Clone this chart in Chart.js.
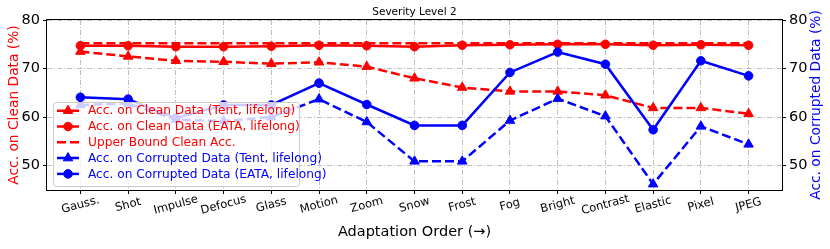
<!DOCTYPE html>
<html>
<head>
<meta charset="utf-8">
<script src="https://cdn.jsdelivr.net/npm/chart.js@4"></script>
<style>
  body { margin: 0; background: #fff; }
</style>
</head>
<body>
<canvas id="myChart" width="830" height="249"></canvas>
<script>
// Corruption types, in adaptation order
const categories = ['Gauss.', 'Shot', 'Impulse', 'Defocus', 'Glass', 'Motion', 'Zoom', 'Snow',
  'Frost', 'Fog', 'Bright', 'Contrast', 'Elastic', 'Pixel', 'JPEG'];

// Accuracy values (%)
const tentClean = [73.5, 72.5, 71.6, 71.4, 71.0, 71.3, 70.4, 68.0, 66.1, 65.3, 65.3, 64.5, 61.9, 61.9, 60.7];
const eataClean = [74.7, 74.7, 74.5, 74.5, 74.6, 74.8, 74.7, 74.5, 74.8, 74.9, 75.0, 75.0, 74.8, 74.9, 74.8];
const upperBound = [75.2, 75.2, 75.2, 75.2, 75.2, 75.2, 75.2, 75.2, 75.2, 75.2, 75.2, 75.2, 75.2, 75.2, 75.2];
const tentCorrupt = [62.5, 62.8, 59.5, 59.2, 60.0, 63.7, 59.0, 50.9, 50.9, 59.3, 63.8, 60.2, 46.2, 58.1, 54.4];
const eataCorrupt = [64.1, 63.7, 59.8, 62.5, 62.5, 67.0, 62.6, 58.3, 58.3, 69.2, 73.4, 70.9, 57.4, 71.6, 68.5];

// Tick values shown on both y axes
const yTicks = [50, 60, 70, 80];

const RED = '#ff0000';
const BLUE = '#0000ff';
const FONT = '"DejaVu Sans", sans-serif';

// turn an array into {x, y} points along the category index
const toPoints = arr => arr.map((v, i) => ({ x: i, y: v }));

function series(label, values, color, dashed, marker) {
  return {
    label: label,
    data: toPoints(values),
    borderColor: color,
    backgroundColor: color,
    borderWidth: 2.5,
    borderDash: dashed ? [9, 4] : [],
    pointStyle: marker || 'circle',
    pointRadius: marker ? (marker === 'triangle' ? 5.5 : 4.3) : 0,
    pointBorderWidth: 1,
    tension: 0,
    clip: false
  };
}

const datasets = [
  series('Acc. on Clean Data (Tent, lifelong)', tentClean, RED, true, 'triangle'),
  series('Acc. on Clean Data (EATA, lifelong)', eataClean, RED, false, 'circle'),
  series('Upper Bound Clean Acc.', upperBound, RED, true, null),
  series('Acc. on Corrupted Data (Tent, lifelong)', tentCorrupt, BLUE, true, 'triangle'),
  series('Acc. on Corrupted Data (EATA, lifelong)', eataCorrupt, BLUE, false, 'circle')
];
// later series drawn on top, like matplotlib
datasets.forEach((d, i) => { d.order = datasets.length - i; });

// frame, legend, title and labels drawn by hand
const overlay = {
  id: 'overlay',
  afterDraw(chart) {
    const { ctx, chartArea: a } = chart;
    const xs = chart.scales.x;
    ctx.save();

    // axes frame
    ctx.strokeStyle = '#000';
    ctx.lineWidth = 1;
    ctx.strokeRect(a.left - 0.5, a.top - 0.5, a.right - a.left + 1, a.bottom - a.top + 1);

    // legend box
    const lx = 53, ly = 102, lw = 246, lh = 84;
    ctx.beginPath();
    ctx.roundRect(lx + 0.5, ly + 0.5, lw, lh, 3);
    ctx.fillStyle = 'rgba(255,255,255,0.8)';
    ctx.fill();
    ctx.strokeStyle = '#cccccc';
    ctx.lineWidth = 1;
    ctx.stroke();

    ctx.font = '12.2px ' + FONT;
    ctx.textBaseline = 'middle';
    ctx.textAlign = 'left';
    chart.data.datasets.forEach((d, i) => {
      const y = 110.7 + i * 15.8;
      ctx.strokeStyle = d.borderColor;
      ctx.lineWidth = 2.5;
      ctx.setLineDash(d.borderDash);
      ctx.beginPath();
      ctx.moveTo(57, y);
      ctx.lineTo(79, y);
      ctx.stroke();
      ctx.setLineDash([]);
      if (d.pointRadius > 0) {
        ctx.fillStyle = d.backgroundColor;
        ctx.lineWidth = 1;
        Chart.helpers.drawPoint(ctx, { pointStyle: d.pointStyle, radius: d.pointRadius, borderWidth: 1 }, 68, y);
      }
      ctx.fillStyle = d.borderColor;
      ctx.fillText(d.label, 88, y + 0.5);
    });

    // chart title
    ctx.fillStyle = '#000';
    ctx.textAlign = 'center';
    ctx.font = '10.5px ' + FONT;
    ctx.fillText('Severity Level 2', (a.left + a.right) / 2, 12);

    // rotated x tick labels, centred under each tick
    ctx.font = '11.5px ' + FONT;
    categories.forEach((c, i) => {
      const px = xs.getPixelForValue(i);
      ctx.save();
      ctx.translate(px, 205);
      ctx.rotate(-15 * Math.PI / 180);
      ctx.fillText(c, 0, 0);
      ctx.restore();
    });

    // axis titles
    ctx.font = '14.5px ' + FONT;
    ctx.fillText('Adaptation Order (\u2192)', (a.left + a.right) / 2, 232);

    ctx.font = '13.8px ' + FONT;
    const midY = (a.top + a.bottom) / 2;
    ctx.save();
    ctx.translate(14, midY);
    ctx.rotate(-Math.PI / 2);
    ctx.fillStyle = RED;
    ctx.fillText('Acc. on Clean Data (%)', 0, 0);
    ctx.restore();

    ctx.save();
    ctx.translate(816, midY);
    ctx.rotate(-Math.PI / 2);
    ctx.fillStyle = BLUE;
    ctx.fillText('Acc. on Corrupted Data (%)', 0, 0);
    ctx.restore();

    ctx.restore();
  }
};

const yAxis = (position, width, showGrid) => ({
  type: 'linear',
  position: position,
  min: 45,
  max: 80,
  afterBuildTicks: s => { s.ticks = yTicks.map(v => ({ value: v })); },
  afterFit: s => { s.width = width; },
  border: { display: false, dash: [5, 2, 1, 2] },
  grid: {
    drawOnChartArea: showGrid,
    color: '#b0b0b0',
    lineWidth: 0.8,
    tickLength: 4,
    tickColor: '#000',
    tickWidth: 1,
    tickBorderDash: []
  },
  ticks: { color: '#000', padding: 3, font: { family: FONT, size: 14.5 } }
});

const ctx = document.getElementById('myChart').getContext('2d');
const chart = new Chart(ctx, {
  type: 'line',
  data: { datasets: datasets },
  options: {
    responsive: false,
    animation: false,
    layout: { padding: { top: 20, left: 0, right: 0, bottom: 0 } },
    plugins: { legend: { display: false }, tooltip: { enabled: false } },
    scales: {
      x: {
        type: 'linear',
        min: -0.7,
        max: 14.7,
        afterBuildTicks: s => { s.ticks = categories.map((c, i) => ({ value: i })); },
        afterFit: s => { s.height = 59; },
        border: { display: false, dash: [5, 2, 1, 2] },
        grid: {
          color: '#b0b0b0',
          lineWidth: 0.8,
          tickLength: 4,
          tickColor: '#000',
          tickWidth: 1,
          tickBorderDash: []
        },
        ticks: { color: 'rgba(0,0,0,0)', autoSkip: false, maxRotation: 0, font: { size: 11 } }
      },
      y: yAxis('left', 47, true),
      y2: yAxis('right', 48, false)
    }
  },
  plugins: [overlay]
});
</script>
</body>
</html>
